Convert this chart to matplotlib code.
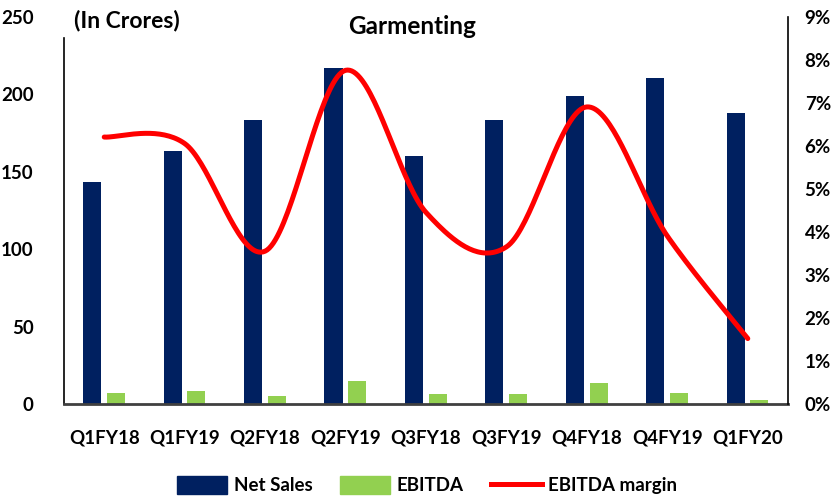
import numpy as np
import matplotlib.pyplot as plt
from matplotlib.lines import Line2D
from matplotlib.patches import Patch

quarters = ['Q1FY18', 'Q1FY19', 'Q2FY18', 'Q2FY19', 'Q3FY18',
            'Q3FY19', 'Q4FY18', 'Q4FY19', 'Q1FY20']
net_sales = [143, 163, 183, 217, 160, 183, 199, 210, 188]
ebitda = [7.1, 8.4, 5.0, 14.8, 6.3, 6.3, 13.5, 7.1, 2.3]
margin = [6.2, 6.05, 3.55, 7.75, 4.45, 3.65, 6.9, 3.9, 1.52]

NAVY = '#002060'
GREEN = '#92D050'
RED = '#FF0000'

plt.rcParams['font.family'] = ['Lato', 'DejaVu Sans']
plt.rcParams['font.weight'] = 'bold'


def smooth(xs, ys, n=40):
    # excel style smoothed line (catmull-rom -> bezier)
    xs = np.asarray(xs, float)
    ys = np.asarray(ys, float)
    px = np.concatenate([[xs[0]], xs, [xs[-1]]])
    py = np.concatenate([[ys[0]], ys, [ys[-1]]])
    out_x, out_y = [], []
    t = np.linspace(0, 1, n)
    for i in range(1, len(px) - 2):
        p0 = np.array([px[i], py[i]])
        p3 = np.array([px[i + 1], py[i + 1]])
        p1 = p0 + (np.array([px[i + 1], py[i + 1]]) - np.array([px[i - 1], py[i - 1]])) / 6
        p2 = p3 - (np.array([px[i + 2], py[i + 2]]) - np.array([px[i], py[i]])) / 6
        b = ((1 - t) ** 3)[:, None] * p0 + (3 * (1 - t) ** 2 * t)[:, None] * p1 \
            + (3 * (1 - t) * t ** 2)[:, None] * p2 + (t ** 3)[:, None] * p3
        out_x.extend(b[:, 0])
        out_y.extend(b[:, 1])
    return np.array(out_x), np.array(out_y)


fig = plt.figure(figsize=(8.36, 4.98), dpi=100)
ax = fig.add_axes([64 / 836, 94 / 498, 724 / 836, 387.5 / 498])
ax2 = ax.twinx()

x = np.arange(len(quarters))
w = 0.225
ax.bar(x - 0.15, net_sales, w, color=NAVY, zorder=2)
ax.bar(x + 0.145, ebitda, w, color=GREEN, zorder=2)
ax.set_xlim(-0.5, len(quarters) - 0.5)
ax.set_ylim(0, 250)
ax.set_yticks([0, 50, 100, 150, 200, 250])
ax.set_xticks(x)
ax.set_xticklabels(quarters)
ax.tick_params(axis='both', length=0, labelsize=13.5)
ax.tick_params(axis='x', pad=18)
ax.tick_params(axis='y', pad=22)

sx, sy = smooth(x, margin)
ax2.plot(sx, sy, color=RED, lw=3.6, solid_capstyle='round', zorder=3)
ax2.set_ylim(0, 9)
ax2.set_yticks(range(10))
ax2.set_yticklabels([f'{i}%' for i in range(10)])
ax2.tick_params(axis='y', length=0, labelsize=13.5, pad=12)

for a in (ax, ax2):
    a.spines['top'].set_visible(False)
    for s in ('left', 'right'):
        a.spines[s].set_color('black')
        a.spines[s].set_linewidth(1.2)
ax.spines['bottom'].set_color('#404040')
ax.spines['bottom'].set_linewidth(2)
ax2.spines['bottom'].set_visible(False)
ax.spines['left'].set_bounds(0, 236)
ax2.spines['left'].set_visible(False)
ax.spines['right'].set_visible(False)

fig.text(412 / 836, 1 - 27 / 498, 'Garmenting', ha='center', va='center',
         fontsize=17.5, fontweight='bold')
fig.text(74 / 836, 1 - 20 / 498, '(In Crores)', ha='left', va='center',
         fontsize=16.5, fontweight='bold')

handles = [Patch(color=NAVY, label='Net Sales'),
           Patch(color=GREEN, label='EBITDA'),
           Line2D([0], [0], color=RED, lw=3.6, label='EBITDA margin')]
fig.legend(handles=handles, loc='center', bbox_to_anchor=(427 / 836, 1 - 485 / 498),
           ncol=3, frameon=False, fontsize=13.5, handlelength=2.7,
           handleheight=1.1, columnspacing=1.45, handletextpad=0.35)

fig.savefig('out.png', dpi=100)
